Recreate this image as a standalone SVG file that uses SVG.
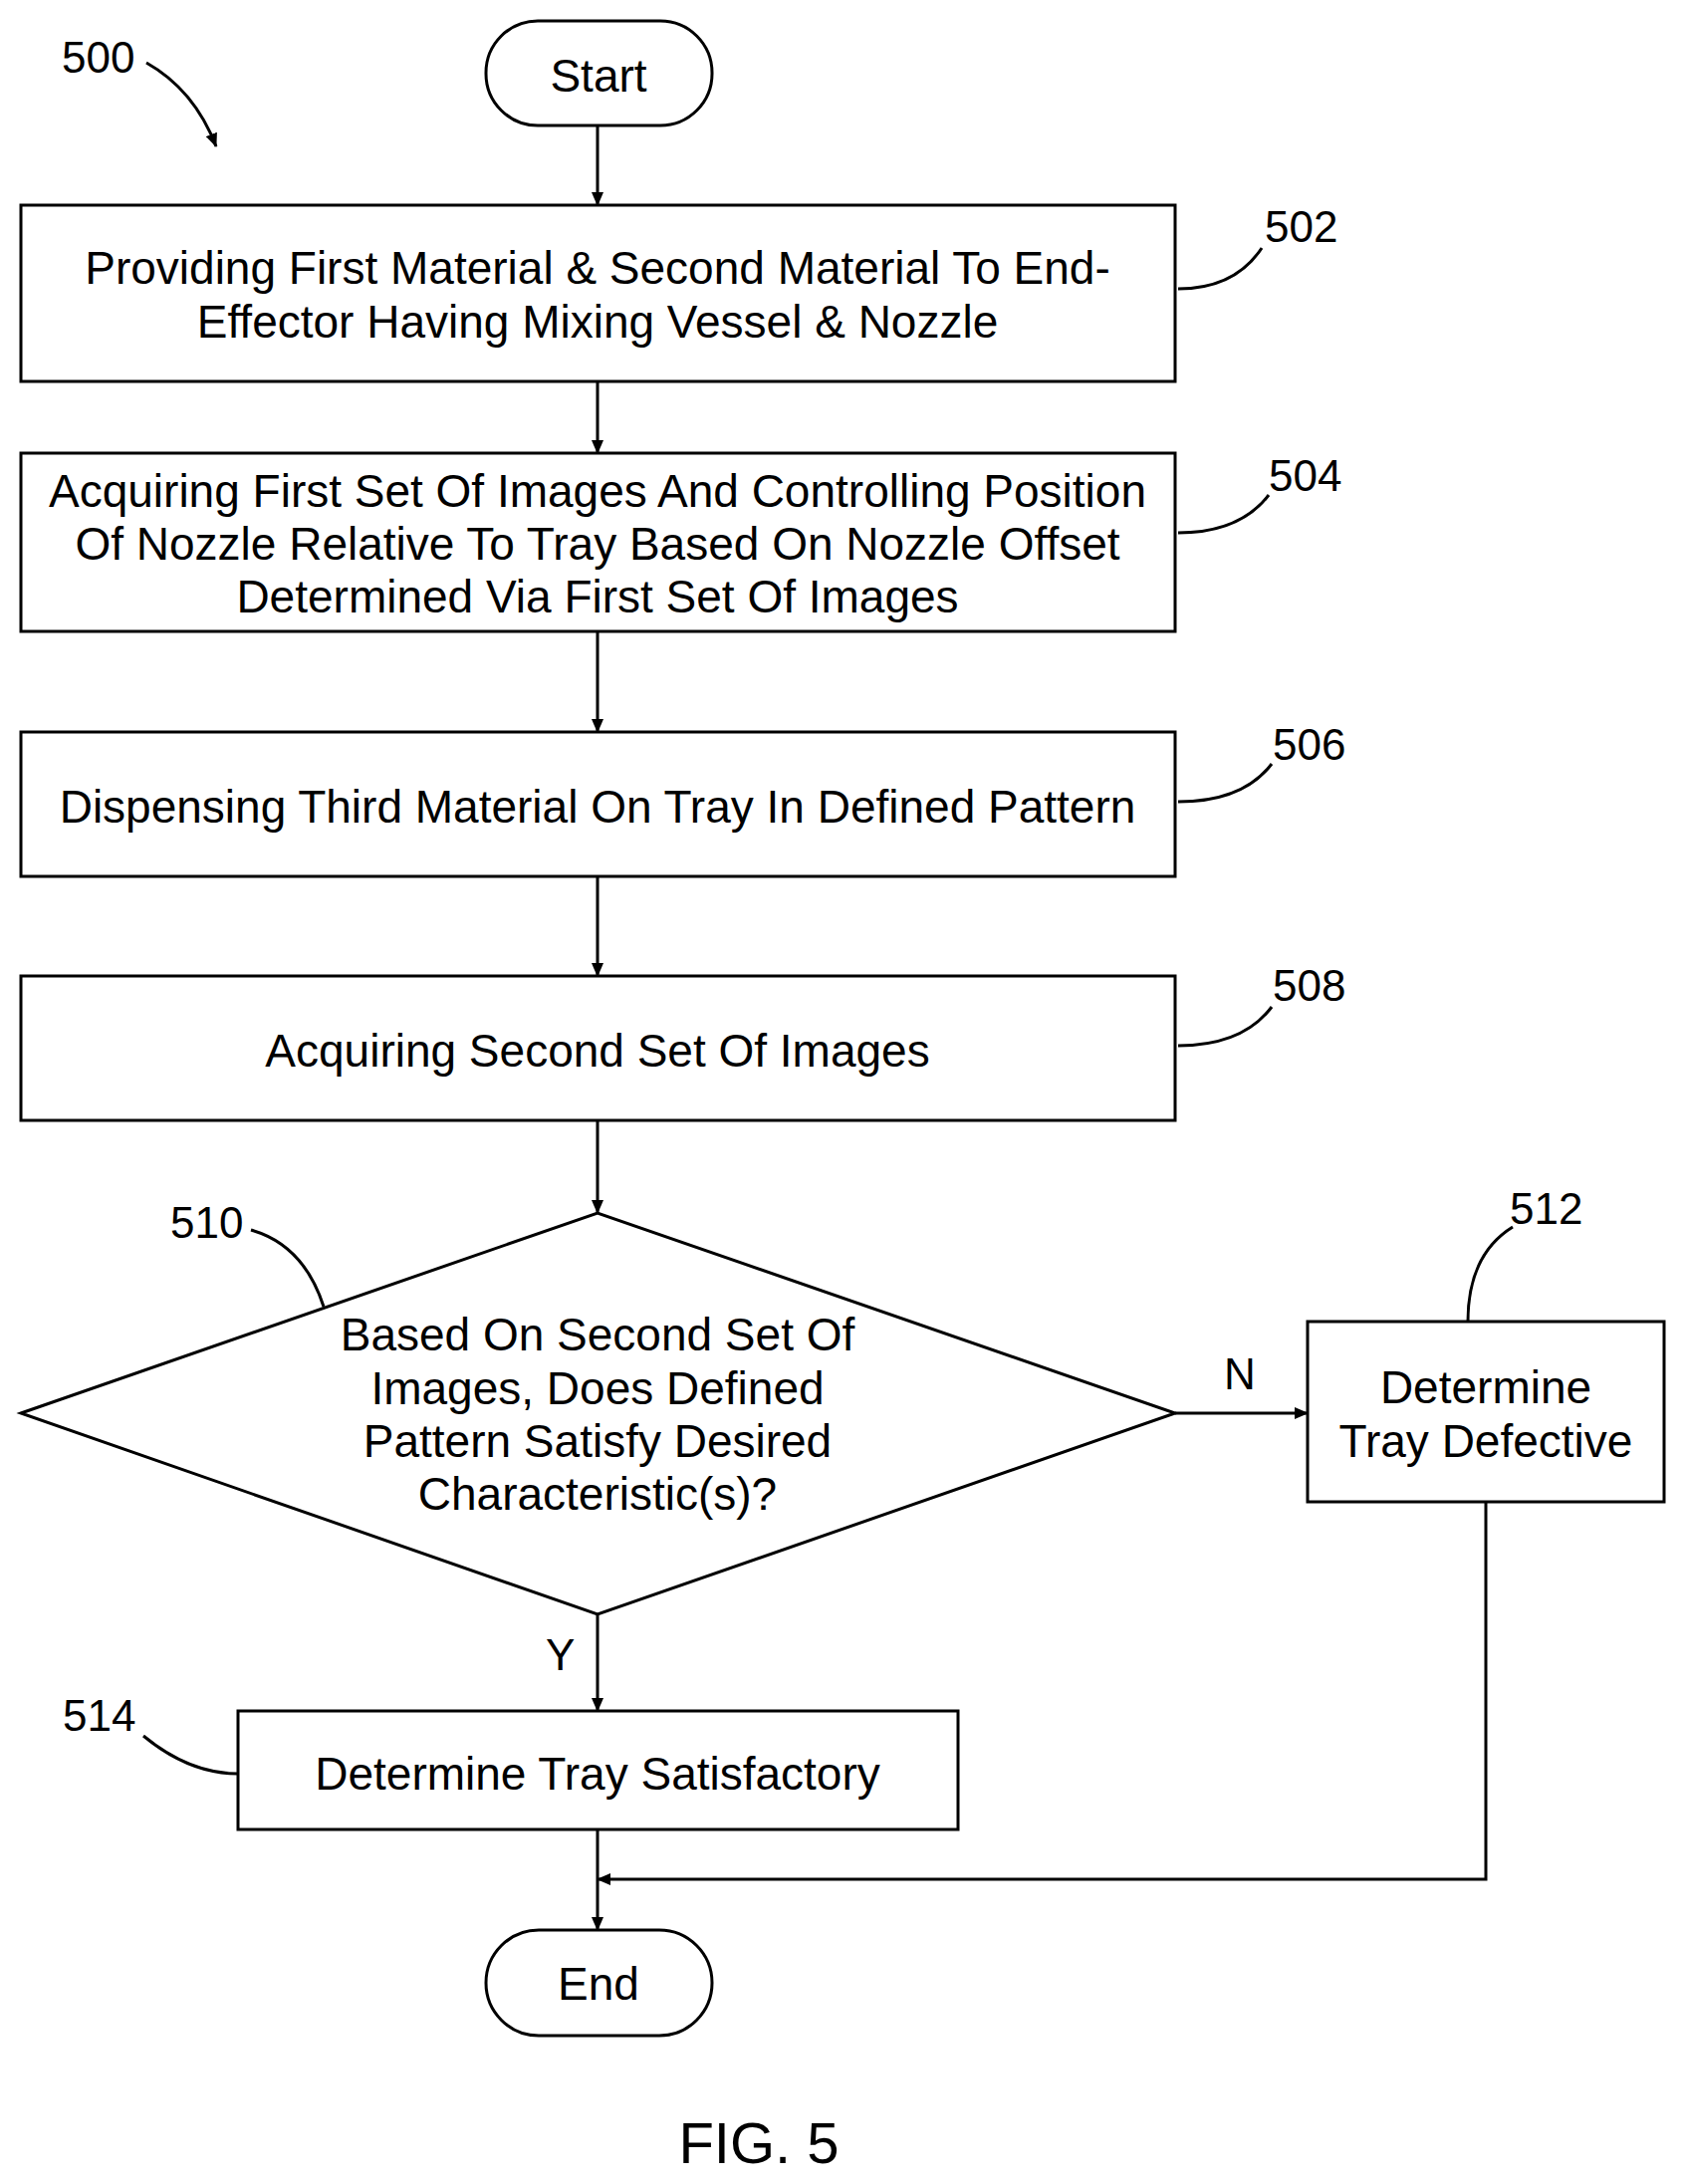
<svg xmlns="http://www.w3.org/2000/svg" width="1693" height="2193" viewBox="0 0 1693 2193">
<defs>
<marker id="ah" markerWidth="14" markerHeight="12" refX="13" refY="6" orient="auto" markerUnits="userSpaceOnUse"><path d="M0,0 L14,6 L0,12 Z" fill="#000"/></marker>
<style>
.s{fill:#fff;stroke:#000;stroke-width:3}
.t{font-family:"Liberation Sans",Arial,sans-serif;font-size:46px;text-anchor:middle;fill:#000}
.l{font-family:"Liberation Sans",Arial,sans-serif;font-size:44px;fill:#000}
.c{fill:none;stroke:#000;stroke-width:3}
</style>
</defs>
<rect width="1693" height="2193" fill="#fff"/>
<g id="connectors">
<line class="c" x1="600" y1="126" x2="600" y2="206" marker-end="url(#ah)"/>
<line class="c" x1="600" y1="383" x2="600" y2="455" marker-end="url(#ah)"/>
<line class="c" x1="600" y1="634" x2="600" y2="735" marker-end="url(#ah)"/>
<line class="c" x1="600" y1="880" x2="600" y2="980" marker-end="url(#ah)"/>
<line class="c" x1="600" y1="1125" x2="600" y2="1218" marker-end="url(#ah)"/>
<line class="c" x1="1180" y1="1419" x2="1313" y2="1419" marker-end="url(#ah)"/>
<line class="c" x1="600" y1="1621" x2="600" y2="1718" marker-end="url(#ah)"/>
<line class="c" x1="600" y1="1837" x2="600" y2="1938" marker-end="url(#ah)"/>
<polyline class="c" points="1492,1508 1492,1887 600,1887" marker-end="url(#ah)"/>
<text class="l" x="1229" y="1395">N</text>
<text class="l" x="548" y="1677">Y</text>
</g>
<g id="n500"><text class="l" x="62" y="73">500</text><path class="c" d="M147,63 Q195,90 217,147" marker-end="url(#ah)"/></g>
<g id="start"><rect class="s" x="488" y="21" width="227" height="105" rx="52"/><text class="t" x="601" y="92">Start</text></g>
<g id="b502"><rect class="s" x="21" y="206" width="1159" height="177"/><text class="t" x="600" y="285">Providing First Material &amp; Second Material To End-</text><text class="t" x="600" y="339">Effector Having Mixing Vessel &amp; Nozzle</text>
<path class="c" d="M1183,290 Q1240,290 1267,249"/><text class="l" x="1270" y="243">502</text></g>
<g id="b504"><rect class="s" x="21" y="455" width="1159" height="179"/><text class="t" x="600" y="509">Acquiring First Set Of Images And Controlling Position</text><text class="t" x="600" y="562">Of Nozzle Relative To Tray Based On Nozzle Offset</text><text class="t" x="600" y="615">Determined Via First Set Of Images</text>
<path class="c" d="M1183,535 Q1245,535 1274,497"/><text class="l" x="1274" y="493">504</text></g>
<g id="b506"><rect class="s" x="21" y="735" width="1159" height="145"/><text class="t" x="600" y="826">Dispensing Third Material On Tray In Defined Pattern</text>
<path class="c" d="M1183,805 Q1248,805 1277,767"/><text class="l" x="1278" y="763">506</text></g>
<g id="b508"><rect class="s" x="21" y="980" width="1159" height="145"/><text class="t" x="600" y="1071">Acquiring Second Set Of Images</text>
<path class="c" d="M1183,1050 Q1248,1050 1277,1011"/><text class="l" x="1278" y="1005">508</text></g>
<g id="d510"><polygon class="s" points="21,1419 600,1218 1180,1419 600,1621"/>
<text class="t" x="600" y="1356">Based On Second Set Of</text><text class="t" x="600" y="1410">Images, Does Defined</text><text class="t" x="600" y="1463">Pattern Satisfy Desired</text><text class="t" x="600" y="1516">Characteristic(s)?</text>
<path class="c" d="M252,1235 Q305,1250 325,1312"/><text class="l" x="171" y="1243">510</text></g>
<g id="b512"><rect class="s" x="1313" y="1327" width="358" height="181"/><text class="t" x="1492" y="1409">Determine</text><text class="t" x="1492" y="1463">Tray Defective</text>
<path class="c" d="M1519,1232 Q1474,1260 1474,1327"/><text class="l" x="1516" y="1229">512</text></g>
<g id="b514"><rect class="s" x="239" y="1718" width="723" height="119"/><text class="t" x="600" y="1797">Determine Tray Satisfactory</text>
<path class="c" d="M144,1743 Q190,1781 239,1781"/><text class="l" x="63" y="1738">514</text></g>
<g id="end"><rect class="s" x="488" y="1938" width="227" height="106" rx="53"/><text class="t" x="601" y="2008">End</text></g>
<text class="t" x="762" y="2172" style="font-size:58px">FIG. 5</text>
</svg>
